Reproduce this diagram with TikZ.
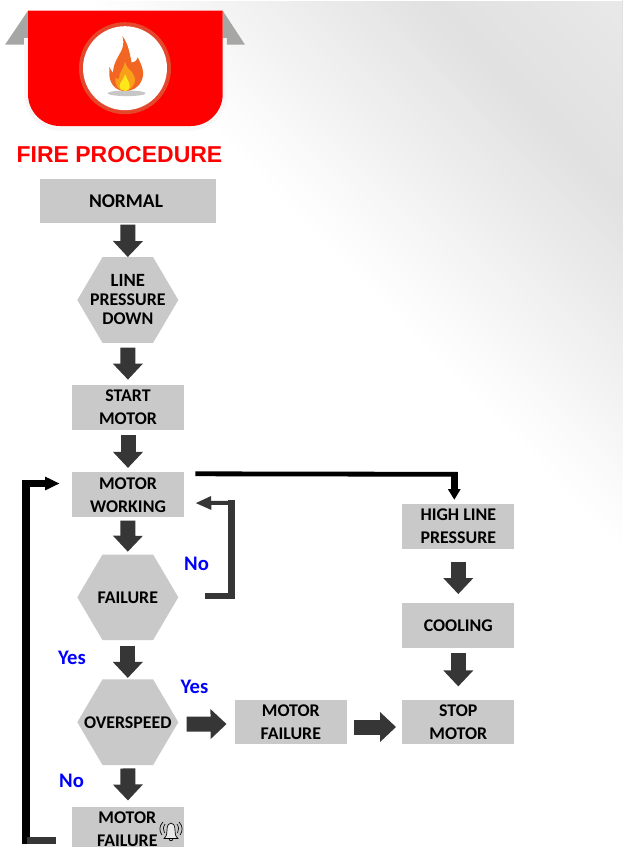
\documentclass[tikz,border=0pt]{standalone}
\usepackage{fontspec}
\setmainfont{Carlito}
\newfontfamily\headfont{Liberation Sans}
\usetikzlibrary{arrows.meta,calc}
\definecolor{boxgray}{HTML}{C9C9C9}
\definecolor{arrowdark}{HTML}{363636}
\definecolor{flapgray}{HTML}{A6A6A4}
\definecolor{ringred}{HTML}{E4472B}
\definecolor{flameorange}{HTML}{F26522}
\definecolor{flamemid}{HTML}{F9A01B}
\definecolor{flameyellow}{HTML}{FFE81A}
\definecolor{labelblue}{HTML}{0000FF}
\tikzset{
  x=0.75pt,y=-0.75pt,
  boxnode/.style={fill=boxgray,draw=none,inner sep=0pt,align=center,font=\bfseries\fontsize{13.4}{17.25}\selectfont,text=black},
  hexnode/.style={inner sep=0pt,align=center,minimum width=75.75pt,minimum height=64pt,font=\bfseries\fontsize{13.4}{14.25}\selectfont,text=black},
  hexfill/.style={fill=boxgray,draw=none},
  blockdown/.style={draw=arrowdark,line width=11.25pt,-{Triangle[width=21.75pt,length=12pt]}},
  labeltext/.style={inner sep=0pt,text=labelblue,font=\bfseries\fontsize{15.5}{18}\selectfont},
  noshaft/.style={draw=arrowdark,line width=4.9pt,miter limit=10},
  nothin/.style={draw=arrowdark,line width=3pt,-{Triangle[width=9.5pt,length=12pt]}},
  blackline/.style={draw=black,line width=3.6pt},
  blackhead/.style={draw=black,line width=4.8pt,-{Triangle[width=9pt,length=8pt]}},
  backhead/.style={draw=black,line width=4.9pt,-{Triangle[width=9.5pt,length=11pt]}},
  bellline/.style={draw=black,line width=.5pt}
}
\newcommand{\hexat}[5]{%
  \fill[hexfill] ({#2-50.5},{#3}) -- ({#2-25.3},{#3-42.8}) -- ({#2+25.3},{#3-42.8}) -- ({#2+50.5},{#3}) -- ({#2+25.3},{#3+42.8}) -- ({#2-25.3},{#3+42.8}) -- cycle;
  \node[hexnode] (#1) at (#2,#3) {#5#4};}
\newcommand{\boxat}[6]{\node[boxnode,minimum width=#4*0.75pt,minimum height=#5*0.75pt] (#1) at (#2,#3) {#6};}
\begin{document}
\begin{tikzpicture}
\useasboundingbox (0,0) rectangle (622,847);
\begin{scope}
\clip (0,0) rectangle (622,847);
\fill[white] (0,0) rectangle (622,847);
% background gradient (half-planes painted near to far)
\foreach \d in {0,4,...,384}{
  \pgfmathsetmacro{\v}{\d<245 ? 1-(0.118*\d/245) : 0.882+(0.03*(\d-245)/139)}
  \definecolor{bgc}{gray}{\v}
  \fill[bgc] ({310+\d*0.717-1500*0.697},{230-\d*0.697-1500*0.717})
    -- ({310+\d*0.717+1500*0.697},{230-\d*0.697+1500*0.717})
    -- ({310+(\d+1500)*0.717+1500*0.697},{230-(\d+1500)*0.697+1500*0.717})
    -- ({310+(\d+1500)*0.717-1500*0.697},{230-(\d+1500)*0.697-1500*0.717}) -- cycle;
}
\fill[white] (0,0) rectangle (622,1);
% banner
\fill[flapgray] (28,10.7) -- (5,44.7) -- (24,44.7) -- (24,38.3) -- (28,38.3) -- cycle;
\fill[flapgray] (222.7,10.7) -- (245,44.7) -- (226.7,44.7) -- (226.7,38.3) -- (222.7,38.3) -- cycle;
\fill[white!94!gray] (24,38) -- (226.7,38) -- (226.7,94) .. controls (226.7,114.3) and (210.6,130.7) .. (190.7,130.7) -- (60,130.7) .. controls (40.1,130.7) and (24,114.3) .. (24,94) -- cycle;
\fill[red] (28,10.7) -- (222.7,10.7) -- (222.7,94) .. controls (222.7,111.7) and (208.4,126) .. (190.7,126) -- (60,126) .. controls (42.3,126) and (28,111.7) .. (28,94) -- cycle;
\fill[ringred] (125,68.2) circle[radius=34.5pt];
\fill[white] (125,68.2) circle[radius=31.5pt];
\fill[black!22] (126.7,93.3) ellipse[x radius=19,y radius=2.8];
\begin{scope}[shift={(75,20)},x=0.25pt,y=-0.25pt]
\fill[flameorange] (142,48) .. controls (160,70) and (165,105) .. (170,128) .. controls (178,128) and (185,122) .. (188,112) .. controls (200,135) and (212,160) .. (198,185) .. controls (188,205) and (170,213) .. (150,213) .. controls (125,213) and (105,195) .. (103,165) -- (103,140) .. controls (108,150) and (110,155) .. (114,158) .. controls (115,125) and (135,105) .. (142,85) .. controls (146,72) and (146,60) .. (142,48) -- cycle;
\fill[flamemid] (150,125) .. controls (155,145) and (165,150) .. (170,155) .. controls (176,165) and (184,175) .. (178,190) .. controls (172,205) and (160,212) .. (150,212) .. controls (130,212) and (118,195) .. (122,172) .. controls (128,180) and (130,178) .. (132,175) .. controls (132,155) and (148,145) .. (150,125) -- cycle;
\fill[flameyellow] (150,162) .. controls (155,175) and (166,190) .. (164,202) .. controls (162,210) and (156,213) .. (150,213) .. controls (142,213) and (134,208) .. (134,198) .. controls (134,185) and (148,178) .. (150,162) -- cycle;
\end{scope}
\node[inner sep=0pt,text=red,font=\headfont\bfseries\fontsize{17.25}{20}\selectfont] (title) at (119.5,155) {FIRE PROCEDURE};
% nodes
\boxat{normal}{128}{200.8}{176}{44.5}{\hspace*{-3pt}\fontsize{14.6}{17.25}\selectfont NORMAL}
\hexat{linedown}{127.8}{300}{LINE\\PRESSURE\\DOWN}{\fontsize{14}{14.25}\selectfont}
\boxat{start}{128}{407.5}{112}{45}{START\\MOTOR}
\boxat{working}{128}{494.7}{112}{44.5}{MOTOR\\WORKING}
\hexat{failure}{127.8}{597.3}{FAILURE}{}
\hexat{overspeed}{127.8}{722.2}{OVERSPEED}{}
\boxat{alarm}{128}{829}{112}{44.5}{\hspace*{-1pt}MOTOR\\\hspace*{-1pt}FAILURE}
\boxat{motorfail}{290.8}{722}{112}{44}{MOTOR\\FAILURE}
\boxat{stop}{458.3}{722}{112}{44}{STOP\\MOTOR}
\boxat{cooling}{458.3}{625.5}{112}{45}{COOLING}
\boxat{highline}{458.3}{526.3}{112}{44.5}{HIGH LINE\\PRESSURE}
% block arrows
\draw[blockdown,shorten <=1pt] (normal.south) -- (linedown.north);
\draw[blockdown,shorten <=3.5pt,shorten >=3.8pt] (linedown.south) -- (start.north);
\draw[blockdown,shorten <=3.8pt,shorten >=3.2pt] (start.south) -- (working.north);
\draw[blockdown,shorten <=2.5pt,shorten >=2pt] (working.south) -- (failure.north);
\draw[blockdown,shorten <=4pt,shorten >=1pt] (failure.south) -- (overspeed.north);
\draw[blockdown,shorten <=2.5pt,shorten >=4.5pt] (overspeed.south) -- (alarm.north);
\draw[blockdown,shorten <=6pt,shorten >=6pt] ($(overspeed.east)+(0,2)$) -- ($(motorfail.west)+(0,2)$);
\draw[blockdown,shorten <=5.5pt,shorten >=4.5pt] ($(motorfail.east)+(0,5)$) -- ($(stop.west)+(0,5)$);
\draw[blockdown,shorten <=10pt,shorten >=6.5pt] (highline.south) -- (cooling.north);
\draw[blockdown,shorten <=3.5pt,shorten >=10pt] (cooling.south) -- (stop.north);
% No loop
\coordinate (noA) at (231.7,596);
\coordinate (noB) at (231.7,500);
\coordinate (noC) at (234.9,502.7);
\draw[noshaft,shorten <=20pt] ($(failure.east)+(0,-1.3)$) -- (noA) -- (noB);
\draw[nothin,shorten >=8.25pt] (noC) -- ($(working.south east)+(0,-14)$);
% black arrow to high line
\coordinate (hiA) at (457.7,474.3);
\coordinate (hiB) at (454.3,472);
\draw[blackline,shorten <=8.25pt] ($(working.north east)+(0,1.6)$) -- (hiA);
\draw[blackhead,shorten >=3pt] (hiB) -- ($(highline.north)+(-4,0)$);
% back loop
\coordinate (backA) at (26.2,843.7);
\coordinate (backB) at (26.2,480);
\coordinate (backC) at (22.5,483.5);
\coordinate (alarmout) at (56,840.5);
\draw[draw=black,line width=5.6pt] (backA) -- (backB);
\draw[draw=arrowdark,line width=4.8pt] (alarmout) -- (26.7,840.5);
\draw[backhead,shorten >=9pt] (backC) -- ($(working.west)+(0,-11.2)$);
% labels
\node[labeltext] (no1) at (196.5,563.5) {No};
\node[labeltext] (yes1) at (72,657.5) {Yes};
\node[labeltext] (yes2) at (194.5,686.5) {Yes};
\node[labeltext] (no2) at (71.5,780.5) {No};
% bell
\begin{scope}[bellline]
\draw[fill=white!60!boxgray] (164,838.5) .. controls (167,836) and (167,833) .. (167,830) .. controls (167,825) and (169,823) .. (171,823) .. controls (173,823) and (175,825) .. (175,830) .. controls (175,833) and (175,836) .. (178,838.5) -- cycle;
\draw (169,838.5) .. controls (169,841.5) and (173,841.5) .. (173,838.5);
\draw (165,824) .. controls (163,827) and (163,830) .. (164.5,833);
\draw (163,822) .. controls (159,826) and (159,831) .. (162,835);
\draw (177,824) .. controls (179,827) and (179,830) .. (177.5,833);
\draw (179,822) .. controls (183,826) and (183,831) .. (180,835);
\end{scope}
\end{scope}
\end{tikzpicture}
\end{document}
